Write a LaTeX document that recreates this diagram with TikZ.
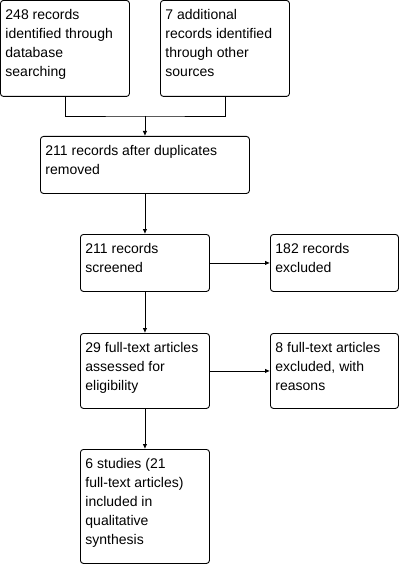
\documentclass[tikz,border=0pt]{standalone}
\usepackage{fontspec}
\setmainfont{Liberation Sans}
\usepackage{xcolor}
\usetikzlibrary{arrows.meta}

\tikzset{
  recbox/.style={draw, rounded corners=3pt, anchor=north west, inner xsep=5pt, inner ysep=0pt, line width=0.9pt},
  flow/.style={-{Latex[length=5pt,width=4.5pt]}, line width=0.9pt}
}
\newcommand{\rectext}[3]{\parbox[c][#2][t]{#1}{\vspace*{5.5pt}\raggedright\fontsize{14}{19}\selectfont\strut #3}}

\begin{document}
\begin{tikzpicture}[x=1pt, y=-1pt]
\useasboundingbox (0,0) rectangle (402,564);
\node[recbox] (db) at (0,0) {\rectext{119pt}{96pt}{248 records\\identified through\\database\\searching}};
\node[recbox] (other) at (160,0) {\rectext{119pt}{96pt}{7 additional\\records identified\\through other\\sources}};
\node[recbox] (dedup) at (40,136) {\rectext{199pt}{57pt}{211 records after duplicates\\removed}};
\node[recbox] (screen) at (80,234) {\rectext{119pt}{57pt}{211 records\\screened}};
\node[recbox] (excl) at (270,234) {\rectext{118pt}{57pt}{182 records\\excluded}};
\node[recbox] (elig) at (80,333) {\rectext{119pt}{75pt}{29 full-text articles\\assessed for\\eligibility}};
\node[recbox] (exclft) at (270,333) {\rectext{118pt}{75pt}{8 full-text articles\\excluded, with\\reasons}};
\node[recbox] (incl) at (80,449) {\rectext{119pt}{114pt}{6 studies (21\\full-text articles)\\included in\\qualitative\\synthesis}};
\path (dedup.north) ++(0,-20) coordinate (join);
\draw[line width=0.9pt] (db.south) |- (join) -| (other.south);
\draw[flow] (join) -- (dedup);
\draw[flow] (dedup) -- (screen);
\draw[flow] (screen) -- (excl);
\draw[flow] (screen) -- (elig);
\draw[flow] (elig) -- (exclft);
\draw[flow] (elig) -- (incl);
\end{tikzpicture}
\end{document}
